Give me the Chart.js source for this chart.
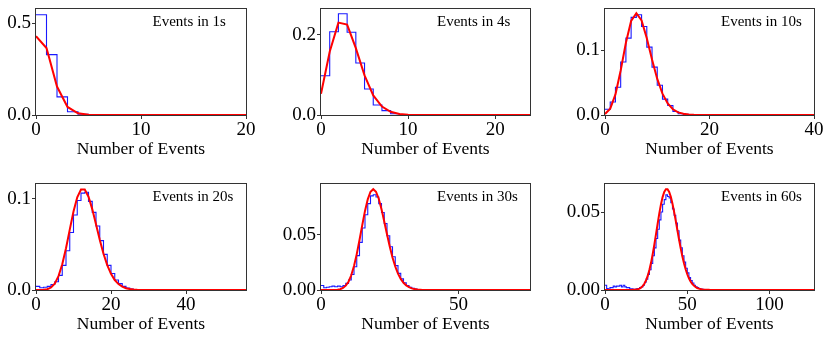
<!DOCTYPE html>
<html><head><meta charset="utf-8">
<script src="https://cdn.jsdelivr.net/npm/chart.js@4"></script>
<style>
html,body{margin:0;padding:0;background:#fff;}
#wrap{position:relative;width:830px;height:341px;overflow:hidden;}
#wrap canvas{position:absolute;left:0;top:0;}
</style></head><body><div id="wrap"></div>
<script>
// ---------- data ----------
const panelTitles = ['Events in 1s', 'Events in 4s', 'Events in 10s', 'Events in 20s', 'Events in 30s', 'Events in 60s'];
const xAxisLabel = 'Number of Events';
const xMax = [20, 24, 40, 56, 76, 127];
const yMax = [0.578, 0.265, 0.164, 0.116, 0.0957, 0.068];
const xTicks = [[0, 10, 20], [0, 10, 20], [0, 20, 40], [0, 20, 40], [0, 50], [0, 50, 100]];
const yTicks = [[0, 0.5], [0, 0.2], [0, 0.1], [0, 0.1], [0, 0.05], [0, 0.05]];
const yTickLabels = [['0.0', '0.5'], ['0.0', '0.2'], ['0.0', '0.1'], ['0.0', '0.1'], ['0.00', '0.05'], ['0.00', '0.05']];

// histogram (normalised counts), bin k spans [k, k+1)
const hist1s = [0.547, 0.329, 0.099, 0.018, 0.004, 0.001, 0];
const hist4s = [0.098, 0.208, 0.253, 0.207, 0.130, 0.065, 0.025, 0.011, 0.003, 0.001, 0];
const hist10s = [0.009, 0.020, 0.043, 0.082, 0.119, 0.151, 0.155, 0.137, 0.105, 0.074, 0.046, 0.0245, 0.0147, 0.0055, 0.002, 0.001, 0];
const hist20s = [0.004, 0.0025, 0.003, 0.004, 0.006, 0.009, 0.016, 0.027, 0.043, 0.063, 0.082, 0.098, 0.106, 0.107, 0.097, 0.085, 0.070, 0.054, 0.039, 0.027, 0.018, 0.011, 0.007, 0.004, 0.002, 0.001, 0.0005, 0];
const hist30s = [0.004, 0.002, 0.0025, 0.003, 0.0035, 0.003, 0.0035, 0.003, 0.004, 0.006, 0.009, 0.014, 0.021, 0.031, 0.043, 0.056, 0.068, 0.078, 0.085, 0.086, 0.084, 0.078, 0.070, 0.060, 0.049, 0.039, 0.030, 0.022, 0.015, 0.010, 0.0065, 0.004, 0.0025, 0.0015, 0.0008, 0.0004, 0.0002, 0];
const hist60s = [0.003, 0.001, 0.0005, 0.0015, 0.0015, 0.0025, 0.002, 0.0025, 0.0025, 0.003, 0.002, 0.003, 0.002, 0.0015, 0.0015, 0.0008, 0.0008, 0.0005, 0.0005, 0.0008, 0.001, 0.0015, 0.002, 0.003, 0.005, 0.007, 0.010, 0.013, 0.017, 0.022, 0.027, 0.033, 0.039, 0.045, 0.050, 0.055, 0.058, 0.061, 0.060, 0.059, 0.056, 0.052, 0.048, 0.043, 0.038, 0.032, 0.027, 0.022, 0.018, 0.014, 0.011, 0.008, 0.006, 0.0045, 0.003, 0.002, 0.0015, 0.001, 0.0006, 0.0004, 0.0002, 0.0001, 0];

// fitted probability curve, value at k = 0, 1, 2, ...
const pmf1s = [0.430, 0.365, 0.155, 0.044, 0.0093, 0.0016, 0.0002, 0];
const pmf4s = [0.053, 0.158, 0.231, 0.226, 0.167, 0.099, 0.049, 0.021, 0.008, 0.0027, 0.0008, 0.0002, 0];
const pmf10s = [0.0015, 0.0098, 0.0318, 0.0688, 0.1118, 0.1454, 0.1575, 0.1462, 0.1188, 0.0858, 0.0558, 0.0330, 0.0179, 0.0089, 0.0041, 0.0018, 0.0007, 0.0003, 0.0001, 0];
const pmf20s = [0, 0, 0.0002, 0.0008, 0.0027, 0.0070, 0.0152, 0.0281, 0.0457, 0.0661, 0.0859, 0.1015, 0.1099, 0.1099, 0.1021, 0.0885, 0.0719, 0.0550, 0.0397, 0.0272, 0.0177, 0.0109, 0.0065, 0.0037, 0.0020, 0.0010, 0.0005, 0.0002, 0.0001, 0];
const pmf30s = [0, 0, 0, 0, 0, 0.0001, 0.0003, 0.0007, 0.0018, 0.0039, 0.0075, 0.0133, 0.0216, 0.0324, 0.0451, 0.0586, 0.0714, 0.0819, 0.0887, 0.0910, 0.0887, 0.0824, 0.0730, 0.0619, 0.0503, 0.0392, 0.0294, 0.0212, 0.0148, 0.0100, 0.0065, 0.0041, 0.0025, 0.0015, 0.0008, 0.0005, 0.0003, 0.0001, 0.0001, 0];
const pmf60s = [0, 0, 0, 0, 0, 0, 0, 0, 0, 0, 0, 0, 0, 0, 0, 0, 0, 0.0001, 0.0001, 0.0003, 0.0005, 0.0009, 0.0016, 0.0026, 0.0042, 0.0063, 0.0092, 0.0130, 0.0176, 0.0231, 0.0293, 0.0359, 0.0426, 0.0491, 0.0549, 0.0596, 0.0629, 0.0646, 0.0646, 0.0629, 0.0598, 0.0554, 0.0501, 0.0443, 0.0383, 0.0323, 0.0267, 0.0216, 0.0171, 0.0133, 0.0101, 0.0075, 0.0055, 0.0039, 0.0028, 0.0019, 0.0013, 0.0009, 0.0006, 0.0004, 0.0002, 0.0002, 0.0001, 0.0001, 0];

const hists = [hist1s, hist4s, hist10s, hist20s, hist30s, hist60s];
const pmfs = [pmf1s, pmf4s, pmf10s, pmf20s, pmf30s, pmf60s];

// ---------- layout (plot rectangles: left, top, right, bottom) ----------
const rects = [
  [36, 9, 246, 115], [321, 9, 530, 115], [605, 9, 814, 115],
  [36, 184, 246, 290], [321, 184, 530, 290], [605, 184, 814, 290]
];
const yAxisW = [36, 45, 45, 36, 45, 45];
const W = 830, H = 341, XH = 45;
const FONT = "'Liberation Serif', 'Times New Roman', serif";

const framePlugin = {
  id: 'frame',
  afterDraw(chart, args, opts) {
    const {ctx, chartArea: a} = chart;
    ctx.save();
    ctx.strokeStyle = '#333';
    ctx.lineWidth = 1;
    ctx.strokeRect(Math.round(a.left) - 0.5, Math.round(a.top) - 0.5, Math.round(a.right - a.left) + 1, Math.round(a.bottom - a.top) + 1);
    ctx.fillStyle = '#000';
    ctx.font = '15px ' + FONT;
    ctx.textAlign = 'left';
    ctx.textBaseline = 'alphabetic';
    ctx.fillText(opts.text, a.left + 0.555 * (a.right - a.left), a.top + 16.5);
    ctx.restore();
  }
};

const wrap = document.getElementById('wrap');
for (let i = 0; i < 6; i++) {
  const cv = document.createElement('canvas');
  cv.width = W; cv.height = H;
  cv.style.width = W + 'px'; cv.style.height = H + 'px';
  wrap.appendChild(cv);
  const [L, T, R, B] = rects[i];
  const YW = yAxisW[i];
  const histPts = hists[i].map((v, k) => ({x: k, y: v}));
  const pmfPts = pmfs[i].map((v, k) => ({x: k, y: v}));
  pmfPts.push({x: xMax[i], y: 0});
  new Chart(cv, {
    type: 'line',
    data: {
      datasets: [
        {data: pmfPts, borderColor: '#ff0000', borderWidth: 2, pointRadius: 0, tension: 0, clip: 0, order: 0},
        {data: histPts, borderColor: 'rgba(0,0,255,0.9)', borderWidth: 1.1, pointRadius: 0, stepped: 'before', clip: 0, order: 1}
      ]
    },
    options: {
      responsive: false, animation: false, devicePixelRatio: 1,
      events: [],
      layout: {padding: {left: L - YW, top: T, right: W - R, bottom: H - B - XH}},
      plugins: {legend: {display: false}, tooltip: {enabled: false}, frame: {text: panelTitles[i]}},
      scales: {
        x: {
          type: 'linear', min: 0, max: xMax[i],
          grid: {display: true, drawOnChartArea: false, drawTicks: true, tickLength: 4, color: '#333'},
          border: {display: false},
          ticks: {font: {family: FONT, size: 19}, color: '#000', padding: 0, maxRotation: 0,
            callback: (v) => String(v)},
          title: {display: true, text: xAxisLabel, font: {family: FONT, size: 17.5}, color: '#000', padding: {top: 0, bottom: 0}},
          afterBuildTicks: (s) => { s.ticks = xTicks[i].map(v => ({value: v})); },
          afterFit: (s) => { s.height = XH; s.paddingLeft = 0; s.paddingRight = 0; }
        },
        y: {
          type: 'linear', min: 0, max: yMax[i],
          grid: {display: true, drawOnChartArea: false, drawTicks: true, tickLength: 4, color: '#333'},
          border: {display: false},
          ticks: {font: {family: FONT, size: 19}, color: '#000', padding: 1,
            callback: (v, idx) => yTickLabels[i][idx]},
          afterBuildTicks: (s) => { s.ticks = yTicks[i].map(v => ({value: v})); },
          afterFit: (s) => { s.width = YW; s.paddingTop = 0; s.paddingBottom = 0; }
        }
      }
    },
    plugins: [framePlugin]
  });
}
</script>
</body></html>
